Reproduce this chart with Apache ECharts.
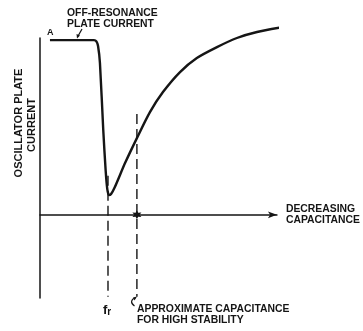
<!DOCTYPE html>
<html><head><meta charset="utf-8">
<script src="https://cdn.jsdelivr.net/npm/echarts@6/dist/echarts.min.js"></script>
<style>html,body{margin:0;padding:0;background:#fff}#c{width:363px;height:331px}</style>
</head><body><div id="c"></div>
<script>
// Curve: oscillator plate current vs decreasing capacitance (arbitrary units)
const curveX = [4.2, 22.8, 23.8, 24.5, 25.3, 26.7, 27.7, 28.4, 29.1, 30.0, 31.6, 35.9, 40.9, 46.4, 51.9, 59.1, 66.2, 74.7, 83.1, 91.6, 102.5];
const curveY = [67.2, 67.2, 66.7, 64.9, 58.4, 32.6, 17.2, 9.9, 7.6, 8.0, 10.7, 19.9, 29.5, 39.5, 47.2, 54.9, 60.3, 64.5, 68.0, 70.3, 72.2];
// Reference lines
const frX = 28.7;
const frY = [15.0, -31.5];
const stableX = 40.9;
const stableY = [38.8, -31.5];
const starPoint = [40.9, 0];

const curve = curveX.map((x, i) => [x, curveY[i]]);
const FONT = '"Liberation Sans", Arial, sans-serif';
const INK = '#151515';
const FS = 10.4;
const chart = echarts.init(document.getElementById('c'), null, {renderer: 'canvas'});
const txt = (x, y, text, extra) => Object.assign({
  type: 'text', x: x, y: y, z: 20,
  style: Object.assign({text: text, fill: INK, font: 'bold ' + FS + 'px ' + FONT, textAlign: 'left', textVerticalAlign: 'middle', lineHeight: 11}, extra || {})
});
chart.setOption({
  animation: false,
  backgroundColor: '#fff',
  grid: {left: 40, top: 38, width: 237, height: 260},
  xAxis: {
    type: 'value', min: 0, max: 100,
    axisLine: {show: true, onZero: true, symbol: ['none', 'arrow'], symbolSize: [5, 9], lineStyle: {color: INK, width: 1.5}},
    axisTick: {show: false}, axisLabel: {show: false}, splitLine: {show: false},
    name: 'DECREASING\nCAPACITANCE', nameLocation: 'end', nameGap: 9,
    nameTextStyle: {color: INK, fontFamily: FONT, fontWeight: 'bold', fontSize: FS, lineHeight: 11, align: 'left', verticalAlign: 'middle'}
  },
  yAxis: {
    type: 'value', min: -32, max: 68,
    axisLine: {show: true, onZero: false, lineStyle: {color: INK, width: 1.5}},
    axisTick: {show: false}, axisLabel: {show: false}, splitLine: {show: false}
  },
  series: [
    {type: 'line', data: curve, smooth: 0.25, symbol: 'none', clip: false,
     lineStyle: {color: INK, width: 2.4}},
    {type: 'line', data: frY.map(y => [frX, y]), symbol: 'none', clip: false,
     lineStyle: {color: INK, width: 1.4, type: [10, 5]}},
    {type: 'line', data: stableY.map(y => [stableX, y]), symbol: 'none', clip: false,
     lineStyle: {color: INK, width: 1.4, type: [10, 5]}},
    {type: 'scatter', data: [starPoint], symbolSize: 9, z: 10,
     symbol: 'path://M50 0 L62.5 28.35 L93.3 25 L75 50 L93.3 75 L62.5 71.65 L50 100 L37.5 71.65 L6.7 75 L25 50 L6.7 25 L37.5 28.35 Z',
     itemStyle: {color: INK, opacity: 1}}
  ],
  graphic: [
    txt(67, 13, 'OFF-RESONANCE'),
    txt(67, 24, 'PLATE CURRENT'),
    txt(47, 33, 'A', {font: 'bold 9px ' + FONT}),
    {type: 'line', shape: {x1: 82, y1: 29, x2: 77.5, y2: 37}, style: {stroke: INK, lineWidth: 1.2}},
    {type: 'polygon', shape: {points: [[77, 38.5], [76.5, 34], [80, 35.5]]}, style: {fill: INK}},
    {type: 'text', x: 19, y: 123, rotation: Math.PI / 2,
     style: {text: 'OSCILLATOR PLATE', fill: INK, font: 'bold 11px ' + FONT, textAlign: 'center', textVerticalAlign: 'middle'}},
    {type: 'text', x: 32, y: 125, rotation: Math.PI / 2,
     style: {text: 'CURRENT', fill: INK, font: 'bold 11px ' + FONT, textAlign: 'center', textVerticalAlign: 'middle'}},
    {type: 'text', x: 103, y: 310,
     style: {rich: {f: {font: 'bold 13px ' + FONT, fill: INK}, r: {font: 'bold 10px ' + FONT, fill: INK, padding: [5, 0, 0, 0]}},
             text: '{f|f}{r|r}', textVerticalAlign: 'middle'}},
    txt(137, 309, 'APPROXIMATE CAPACITANCE'),
    txt(137, 320, 'FOR HIGH STABILITY'),
    {type: 'bezierCurve', shape: {x1: 134.5, y1: 306, x2: 135.5, y2: 298, cpx1: 130, cpy1: 303, cpx2: 131, cpy2: 299},
     style: {stroke: INK, lineWidth: 1.2, fill: null}},
    {type: 'polygon', shape: {points: [[137, 296.5], [133, 297.5], [134.5, 300.5]]}, style: {fill: INK}}
  ]
});
</script></body></html>
